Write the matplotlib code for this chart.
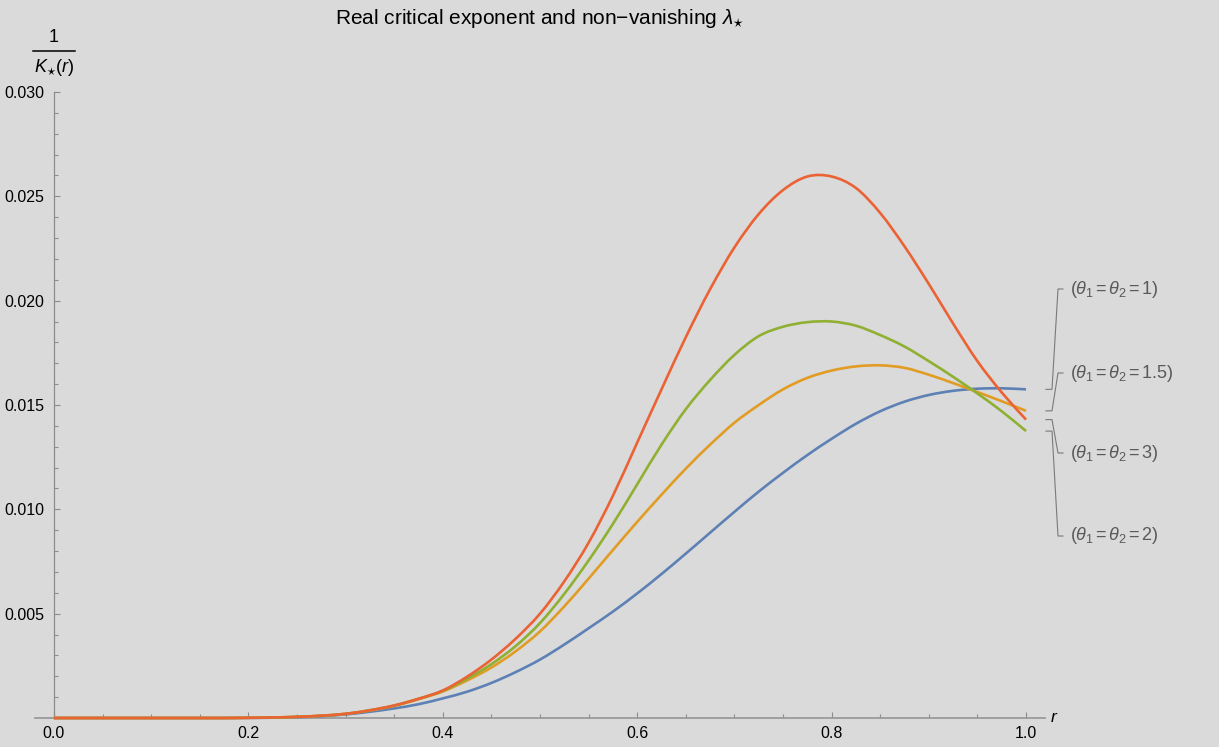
import numpy as np
import matplotlib
matplotlib.use("Agg")
import matplotlib.pyplot as plt
from matplotlib.path import Path
from matplotlib.patches import PathPatch

plt.rcParams['font.family'] = ['Liberation Sans', 'DejaVu Sans']
plt.rcParams['mathtext.fontset'] = 'custom'
plt.rcParams['mathtext.rm'] = 'Liberation Sans'
plt.rcParams['mathtext.it'] = 'Liberation Sans:italic'

# r grid, step 0.025
r = np.linspace(0, 1, 41)

# 1/K_*(r) (units of 1e-3)
k_theta1 = [0, 0, 0, 0, 0, 0, 0, 0, 0.005, 0.015, 0.04, 0.09, 0.17, 0.3, 0.46, 0.66,
            0.94, 1.26, 1.68, 2.2, 2.8, 3.52, 4.3, 5.1, 5.97, 6.9, 7.88, 8.88, 9.88,
            10.85, 11.75, 12.6, 13.38, 14.1, 14.7, 15.16, 15.48, 15.68, 15.78, 15.8, 15.75]
k_theta15 = [0, 0, 0, 0, 0, 0, 0, 0, 0.01, 0.025, 0.055, 0.11, 0.2, 0.36, 0.58, 0.9,
             1.27, 1.8, 2.42, 3.2, 4.15, 5.35, 6.68, 8.05, 9.4, 10.7, 11.95, 13.1, 14.15,
             15.0, 15.75, 16.3, 16.65, 16.85, 16.9, 16.78, 16.45, 16.05, 15.62, 15.18, 14.72]
k_theta2 = [0, 0, 0, 0, 0, 0, 0, 0, 0.01, 0.025, 0.055, 0.11, 0.2, 0.37, 0.6, 0.92,
            1.3, 1.88, 2.58, 3.45, 4.55, 5.95, 7.55, 9.3, 11.2, 13.1, 14.8, 16.2, 17.4,
            18.3, 18.75, 18.97, 19.0, 18.8, 18.35, 17.8, 17.1, 16.35, 15.55, 14.7, 13.75]
k_theta3 = [0, 0, 0, 0, 0, 0, 0, 0, 0.01, 0.025, 0.055, 0.11, 0.2, 0.37, 0.6, 0.92,
            1.32, 1.98, 2.8, 3.8, 5.0, 6.55, 8.4, 10.65, 13.2, 15.75, 18.25, 20.55, 22.55,
            24.15, 25.3, 25.95, 25.95, 25.4, 24.2, 22.6, 20.8, 18.9, 17.1, 15.6, 14.3]

series = [k_theta1, k_theta15, k_theta2, k_theta3]
labels = ["1", "1.5", "2", "3"]
colors = ["#5E81B5", "#E19C24", "#8FB032", "#EB6235"]
# where each label sits (pixels from top)
label_y = [289, 373, 536, 453]


def smooth_path(x, y):
    # Catmull-Rom drawn as cubic Bezier segments through the read points
    p = np.column_stack([x, y])
    ext = np.vstack([p[0], p, p[-1]])
    verts = [p[0]]
    codes = [Path.MOVETO]
    for i in range(len(p) - 1):
        p0, p1, p2, p3 = ext[i], ext[i + 1], ext[i + 2], ext[i + 3]
        verts += [p1 + (p2 - p0) / 6, p2 - (p3 - p1) / 6, p2]
        codes += [Path.CURVE4] * 3
    return Path(verts, codes)


W, H = 1219, 747
bg = '#DADADA'
fig = plt.figure(figsize=(W / 100, H / 100), dpi=100)
fig.patch.set_facecolor(bg)

ax = fig.add_axes([35 / W, (H - 718) / H, 1010 / W, 626 / H])
ax.set_facecolor(bg)
ax.set_xlim(-0.0195, 1.0195)
ax.set_ylim(0, 0.030)

for vals, c in zip(series, colors):
    path = smooth_path(r, np.array(vals) * 1e-3)
    ax.add_patch(PathPatch(path, facecolor='none', edgecolor=c, lw=1.9,
                           clip_on=False, zorder=3, capstyle='butt'))

for s in ['top', 'right']:
    ax.spines[s].set_visible(False)
ax.spines['left'].set_position(('data', 0))
ax.spines['left'].set_bounds(0, 0.030)
ax.spines['left'].set_color('#8C8C8C')
ax.spines['bottom'].set_color('#9A9A9A')
ax.spines['bottom'].set_linewidth(1.3)
ax.spines['left'].set_linewidth(0.9)

ax.set_xticks([0, 0.2, 0.4, 0.6, 0.8, 1.0])
ax.set_xticklabels(["0.0", "0.2", "0.4", "0.6", "0.8", "1.0"])
ax.set_xticks(np.arange(0.05, 1.0, 0.05), minor=True)
ax.set_yticks([0.005, 0.010, 0.015, 0.020, 0.025, 0.030])
ax.set_yticklabels(["0.005", "0.010", "0.015", "0.020", "0.025", "0.030"])
ax.set_yticks(np.arange(0.001, 0.030, 0.001), minor=True)
ax.tick_params(which='both', direction='in', color='#8C8C8C', width=0.8,
               labelsize=11.5, labelcolor='black')
ax.tick_params(which='major', length=4.5, pad=6)
ax.tick_params(which='minor', length=2.8)
ax.tick_params(axis='y', pad=7)

# axis labels
ax.text(1.0195 + 0.005, 0, "$r$", fontsize=12.5, ha='left', va='center',
        transform=ax.transData, clip_on=False)
fig.text(54 / W, 1 - 38 / H, "1", fontsize=13, ha='center', va='center')
fig.add_artist(plt.Line2D([33 / W, 75 / W], [1 - 51 / H, 1 - 51 / H],
                          color='black', lw=1.1))
fig.text(54 / W, 1 - 68 / H, r"$K_{\star}(r)$", fontsize=13, ha='center', va='center')

fig.text(540 / W, 1 - 18 / H, r"Real critical exponent and non$-$vanishing $\lambda_{\star}$",
         fontsize=15, ha='center', va='center')

# labels with leader lines, in pixel coords
ov = fig.add_axes([0, 0, 1, 1])
ov.set_xlim(0, W)
ov.set_ylim(H, 0)
ov.axis('off')
ov.patch.set_alpha(0)
fig.canvas.draw()
for vals, lab, ly in zip(series, labels, label_y):
    yend = H - ax.transData.transform((1.0, vals[-1] * 1e-3))[1]
    ov.plot([1046, 1052, 1058, 1063], [yend, yend, ly, ly], color='#7A7A7A', lw=0.8)
    ov.text(1070, ly, r"($\theta_1\,$=$\,\theta_2\,$=$\,$" + lab + ")", fontsize=13,
            color='#5A5A5A', ha='left', va='center')

plt.savefig("out.png", dpi=100, facecolor=bg)
